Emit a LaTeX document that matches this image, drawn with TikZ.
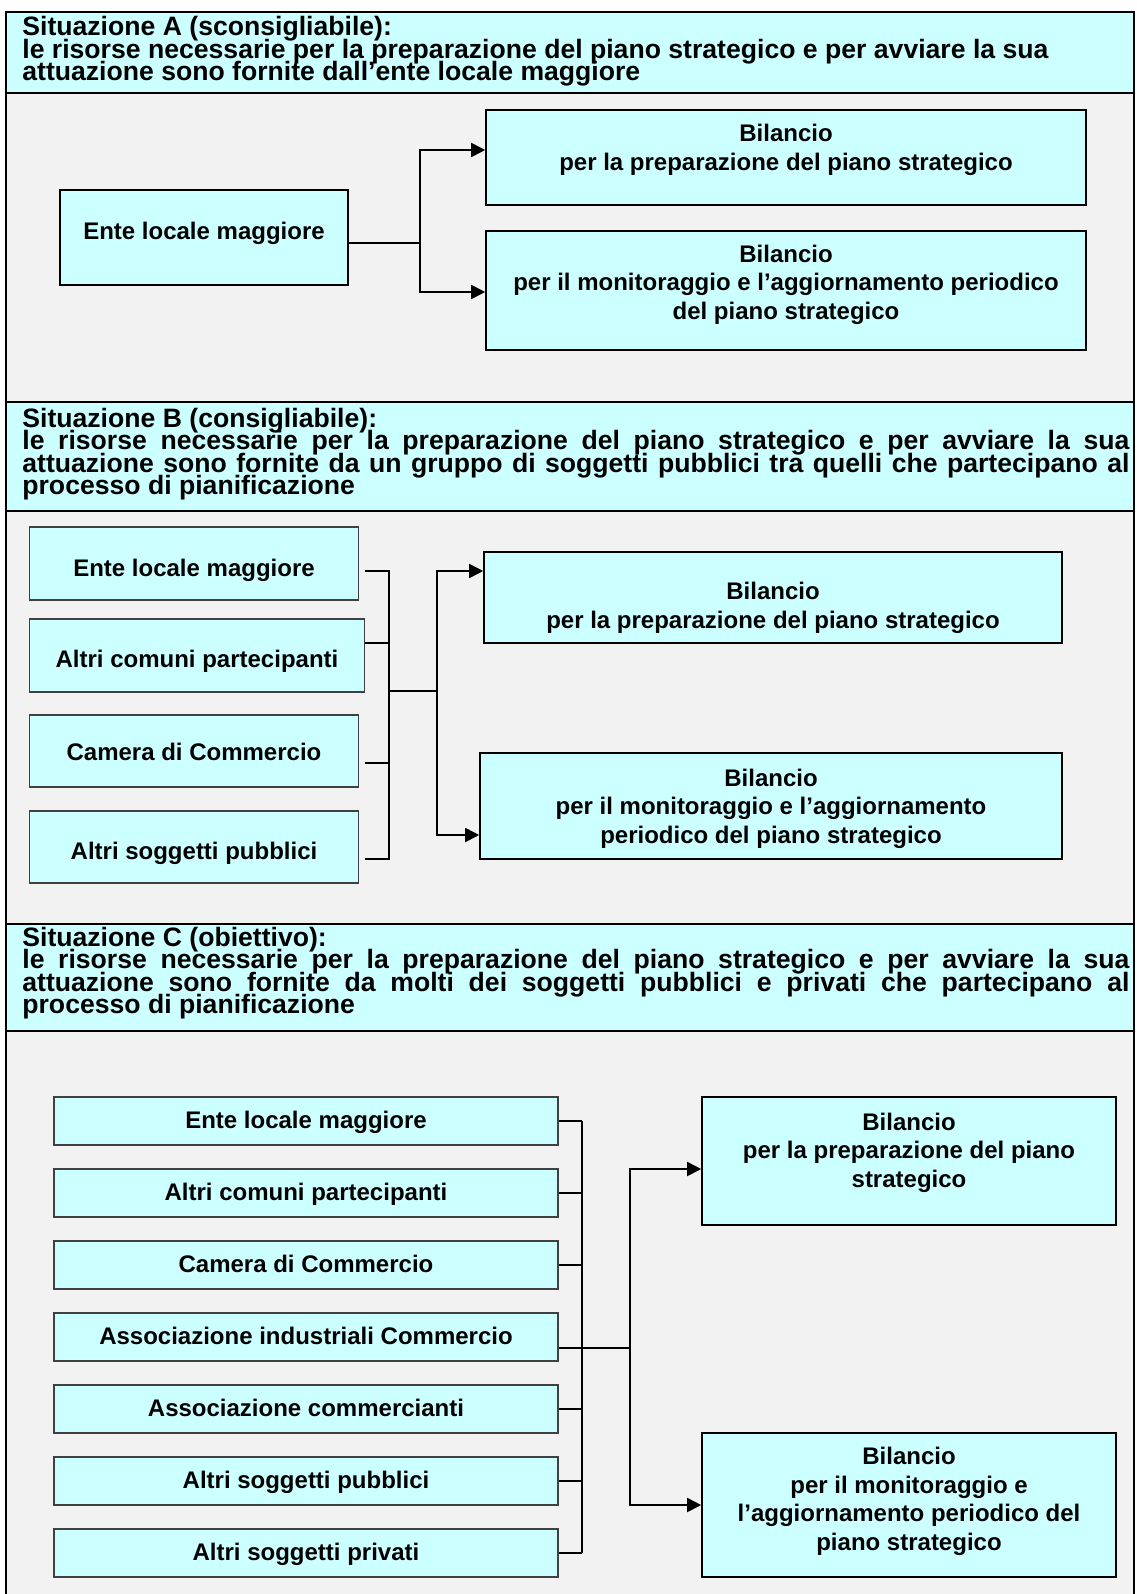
\documentclass[tikz,border=0pt]{standalone}
\usepackage{fontspec}
\setmainfont{Liberation Sans}
\usepackage{xcolor}
\usepackage{tikz}
\usetikzlibrary{positioning,calc,arrows.meta}

\definecolor{ciano}{HTML}{CCFFFF}
\definecolor{grigio}{HTML}{F2F2F2}

% carattere delle intestazioni (righe strette)
\newcommand{\fonttitolo}{\bfseries\fontsize{13.3}{11.25}\selectfont\lineskiplimit=-20pt\relax}
% riga giustificata dell'intestazione
\newcommand{\riga}[1]{{\spaceskip=0pt\xspaceskip=0pt\makebox[553.5pt][s]{#1}}}
% testo della casella spostato in verticale
\newcommand{\sposta}[2]{\raisebox{#1}[\height][\depth]{\begin{tabular}{@{}c@{}}#2\end{tabular}}}

\begin{document}
\begin{tikzpicture}[x=0.5pt,y=-0.5pt,
		intest/.style={draw=black,fill=ciano,line width=1.4pt},
		titolo/.style={anchor=base west,inner sep=0pt,text width=553.5pt,align=flush left,
			font=\fonttitolo},
		casella/.style={draw=black,fill=ciano,line width=0.8pt,align=center,inner sep=0pt,
			font=\bfseries\fontsize{12}{14.25}\selectfont},
		fonte/.style={casella,draw=black!75,line width=0.6pt},
		lnk/.style={line width=0.9pt},
		arr/.style={lnk,-{Triangle[length=7pt,width=7pt]}}]
	\useasboundingbox (0,0) rectangle (1136,1594);
	
	% sfondo e cornice
	\fill[grigio] (6,12) rectangle (1134,1594);
	\draw[line width=1.4pt] (6,12) -- (6,1594) (1134,12) -- (1134,1594);
	
	% intestazioni delle tre situazioni
	\draw[intest] (6,12) rectangle (1134,93);
	\draw[intest] (6,402) rectangle (1134,511);
	\draw[intest] (6,924) rectangle (1134,1031);
	
	\node[titolo] (titA) at (22,36) {Situazione A (sconsigliabile):\\
		le risorse necessarie per la preparazione del piano strategico e per avviare la sua\\
		attuazione sono fornite dall’ente locale maggiore};
	\node[titolo] (titB) at (22,427) {Situazione B (consigliabile):\\
		\riga{le risorse necessarie per la preparazione del piano strategico e per avviare la sua}\\
		\riga{attuazione sono fornite da un gruppo di soggetti pubblici tra quelli che partecipano al}\\
		processo di pianificazione};
	\node[titolo] (titC) at (22,946) {Situazione C (obiettivo):\\
		\riga{le risorse necessarie per la preparazione del piano strategico e per avviare la sua}\\
		\riga{attuazione sono fornite da molti dei soggetti pubblici e privati che partecipano al}\\
		processo di pianificazione};
	
	% situazione A
	\node[casella,minimum width=144pt,minimum height=47.5pt] (entA) at (204,237.5)
		{\sposta{2pt}{Ente locale maggiore}};
	\node[casella,minimum width=300pt,minimum height=47.5pt] (bilA1) at (786,157.5)
		{\sposta{3.5pt}{Bilancio\\per la preparazione del piano strategico}};
	\node[casella,minimum width=300pt,minimum height=59.5pt] (bilA2) at (786,290.5)
		{\sposta{2.75pt}{Bilancio\\per il monitoraggio e l’aggiornamento periodico\\del piano strategico}};
	
	\coordinate (nA) at (420,243);
	\draw[lnk] (entA.east |- nA) -- (nA);
	\draw[arr] (nA) |- ($(bilA1.west)+(0,-7.5)$);
	\draw[arr] (nA) |- ($(bilA2.west)+(0,1.5)$);
	
	% situazione B
	\node[fonte,minimum width=164.75pt,minimum height=36.5pt] (entB) at (194,563.5)
		{\sposta{-3.5pt}{Ente locale maggiore}};
	\node[fonte,minimum width=167.25pt,minimum height=36.5pt] (comB) at (197,655.5)
		{\sposta{-3pt}{Altri comuni partecipanti}};
	\node[fonte,minimum width=164.75pt,minimum height=36pt] (camB) at (194,751)
		{\sposta{-2pt}{Camera di Commercio}};
	\node[fonte,minimum width=164.75pt,minimum height=36pt] (altB) at (194,847)
		{\sposta{-3.5pt}{Altri soggetti pubblici}};
	
	\node[casella,minimum width=289pt,minimum height=45.5pt] (bilB1) at (773,597.5)
		{\sposta{-5.5pt}{Bilancio\\per la preparazione del piano strategico}};
	\node[casella,minimum width=291pt,minimum height=53pt] (bilB2) at (771,806)
		{\sposta{-1.5pt}{Bilancio\\per il monitoraggio e l’aggiornamento\\periodico del piano strategico}};
	
	\coordinate (busB) at (389,691);
	\coordinate (nB) at (437,691);
	\draw[lnk] ($(entB.east)+(6,7.5)$) -| (busB);
	\draw[lnk] ($(comB.east)+(0,-12.5)$) -| (busB);
	\draw[lnk] ($(camB.east)+(6,12)$) -| (busB);
	\draw[lnk] ($(altB.east)+(6,12)$) -| (busB);
	\draw[lnk] (busB) -- (nB);
	\draw[arr] (nB) |- ($(bilB1.west)+(0,-26.5)$);
	\draw[arr] (nB) |- ($(bilB2.west)+(0,29)$);
	
	% situazione C
	\foreach \i/\testo in {1/Ente locale maggiore,2/Altri comuni partecipanti,3/Camera di Commercio,
		4/Associazione industriali Commercio,5/Associazione commercianti,
		6/Altri soggetti pubblici,7/Altri soggetti privati} {
		\node[fonte,minimum width=252pt,minimum height=24pt] (srcC\i) at (306,1049+72*\i)
			{\sposta{-1pt}{\testo}};
	}
	
	\node[casella,minimum width=207pt,minimum height=64pt] (bilC1) at (909,1161)
		{\sposta{4pt}{Bilancio\\per la preparazione del piano\\strategico}};
	\node[casella,minimum width=207pt,minimum height=72pt] (bilC2) at (909,1505)
		{\sposta{1.5pt}{Bilancio\\per il monitoraggio e\\l’aggiornamento periodico del\\piano strategico}};
	
	\coordinate (busC) at (582,1348);
	\coordinate (nC) at (630,1348);
	\foreach \i in {1,2,3,5,6,7} {
		\draw[lnk] (srcC\i.east) -- (srcC\i.east -| busC);
	}
	\draw[lnk] (srcC1.east -| busC) -- (srcC7.east -| busC);
	\draw[lnk] ($(srcC4.east)+(0,11)$) -- (nC);
	\draw[arr] (nC) |- ($(bilC1.west)+(0,8)$);
	\draw[arr] (nC) |- (bilC2.west);
\end{tikzpicture}
\end{document}
